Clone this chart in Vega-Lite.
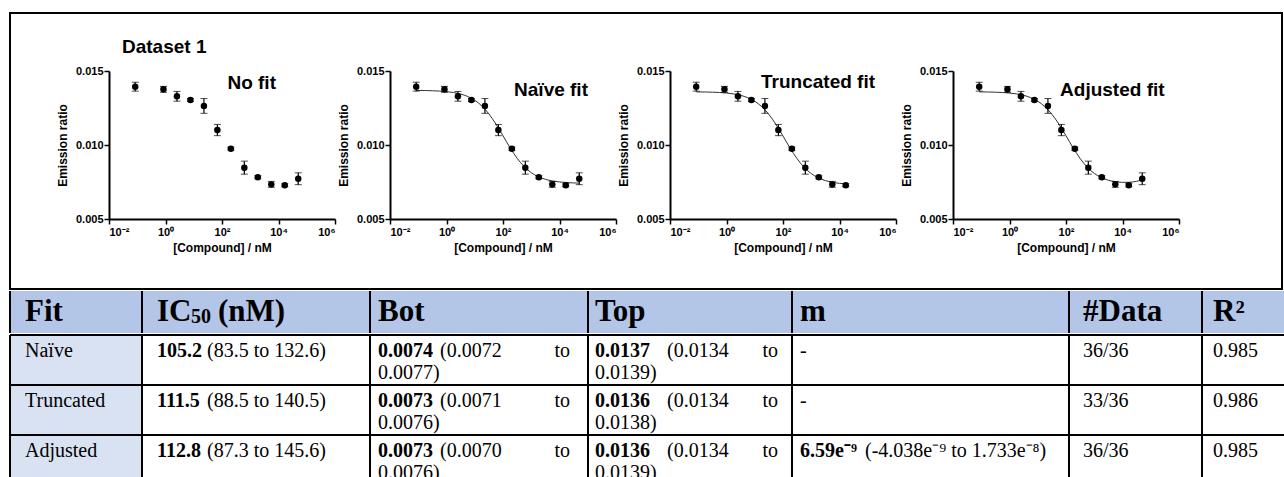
{
"$schema": "https://vega.github.io/schema/vega-lite/v6.json",
"background": "white",
"padding": {"left": 9, "top": 12, "right": 0, "bottom": 0},
"spacing": 0,
"bounds": "full",
"datasets": {
"obs": [
{"conc": 0.0847, "y": 0.01394, "err": 0.0003},
{"conc": 0.847, "y": 0.01376, "err": 0.0002},
{"conc": 2.54, "y": 0.01329, "err": 0.00033},
{"conc": 7.62, "y": 0.01304, "err": 0.0001},
{"conc": 22.9, "y": 0.01264, "err": 0.0005},
{"conc": 68.6, "y": 0.01101, "err": 0.00038},
{"conc": 206, "y": 0.00975, "err": 0.0001},
{"conc": 617, "y": 0.00847, "err": 0.00044},
{"conc": 1852, "y": 0.00782, "err": 0.0001},
{"conc": 5556, "y": 0.00734, "err": 0.0002},
{"conc": 16667, "y": 0.00728, "err": 0.0001},
{"conc": 50000, "y": 0.00772, "err": 0.0004}
],
"curves": [
{"fit": "naive", "conc": 0.085, "y": 0.013690},
{"fit": "naive", "conc": 0.1778, "y": 0.013680},
{"fit": "naive", "conc": 0.3162, "y": 0.013666},
{"fit": "naive", "conc": 0.5623, "y": 0.013644},
{"fit": "naive", "conc": 1, "y": 0.013606},
{"fit": "naive", "conc": 1.778, "y": 0.013544},
{"fit": "naive", "conc": 3.162, "y": 0.013442},
{"fit": "naive", "conc": 5.623, "y": 0.013279},
{"fit": "naive", "conc": 10, "y": 0.013024},
{"fit": "naive", "conc": 17.78, "y": 0.012642},
{"fit": "naive", "conc": 31.62, "y": 0.012105},
{"fit": "naive", "conc": 56.23, "y": 0.011415},
{"fit": "naive", "conc": 100, "y": 0.010622},
{"fit": "naive", "conc": 177.8, "y": 0.009819},
{"fit": "naive", "conc": 316.2, "y": 0.009106},
{"fit": "naive", "conc": 562.3, "y": 0.008541},
{"fit": "naive", "conc": 1000, "y": 0.008133},
{"fit": "naive", "conc": 1778, "y": 0.007858},
{"fit": "naive", "conc": 3162, "y": 0.007681},
{"fit": "naive", "conc": 5623, "y": 0.007571},
{"fit": "naive", "conc": 10000, "y": 0.007503},
{"fit": "naive", "conc": 17783, "y": 0.007462},
{"fit": "naive", "conc": 31623, "y": 0.007437},
{"fit": "naive", "conc": 50119, "y": 0.007424},
{"fit": "trunc", "conc": 0.085, "y": 0.013590},
{"fit": "trunc", "conc": 0.1778, "y": 0.013581},
{"fit": "trunc", "conc": 0.3162, "y": 0.013568},
{"fit": "trunc", "conc": 0.5623, "y": 0.013547},
{"fit": "trunc", "conc": 1, "y": 0.013511},
{"fit": "trunc", "conc": 1.778, "y": 0.013452},
{"fit": "trunc", "conc": 3.162, "y": 0.013355},
{"fit": "trunc", "conc": 5.623, "y": 0.013199},
{"fit": "trunc", "conc": 10, "y": 0.012955},
{"fit": "trunc", "conc": 17.78, "y": 0.012587},
{"fit": "trunc", "conc": 31.62, "y": 0.012067},
{"fit": "trunc", "conc": 56.23, "y": 0.011391},
{"fit": "trunc", "conc": 100, "y": 0.010604},
{"fit": "trunc", "conc": 177.8, "y": 0.009798},
{"fit": "trunc", "conc": 316.2, "y": 0.009072},
{"fit": "trunc", "conc": 562.3, "y": 0.008491},
{"fit": "trunc", "conc": 1000, "y": 0.008068},
{"fit": "trunc", "conc": 1778, "y": 0.007781},
{"fit": "trunc", "conc": 3162, "y": 0.007596},
{"fit": "trunc", "conc": 5623, "y": 0.007480},
{"fit": "trunc", "conc": 10000, "y": 0.007408},
{"fit": "trunc", "conc": 16596, "y": 0.007369},
{"fit": "adj", "conc": 0.085, "y": 0.013590},
{"fit": "adj", "conc": 0.1778, "y": 0.013581},
{"fit": "adj", "conc": 0.3162, "y": 0.013568},
{"fit": "adj", "conc": 0.5623, "y": 0.013547},
{"fit": "adj", "conc": 1, "y": 0.013512},
{"fit": "adj", "conc": 1.778, "y": 0.013453},
{"fit": "adj", "conc": 3.162, "y": 0.013357},
{"fit": "adj", "conc": 5.623, "y": 0.013203},
{"fit": "adj", "conc": 10, "y": 0.012960},
{"fit": "adj", "conc": 17.78, "y": 0.012596},
{"fit": "adj", "conc": 31.62, "y": 0.012079},
{"fit": "adj", "conc": 56.23, "y": 0.011406},
{"fit": "adj", "conc": 100, "y": 0.010621},
{"fit": "adj", "conc": 177.8, "y": 0.009815},
{"fit": "adj", "conc": 316.2, "y": 0.009087},
{"fit": "adj", "conc": 562.3, "y": 0.008505},
{"fit": "adj", "conc": 1000, "y": 0.008082},
{"fit": "adj", "conc": 1778, "y": 0.007798},
{"fit": "adj", "conc": 3162, "y": 0.007620},
{"fit": "adj", "conc": 5623, "y": 0.007518},
{"fit": "adj", "conc": 10000, "y": 0.007475},
{"fit": "adj", "conc": 17783, "y": 0.007483},
{"fit": "adj", "conc": 31623, "y": 0.007547},
{"fit": "adj", "conc": 50119, "y": 0.007656}
],
"hdr": [{"fit": "Fit", "ic": "IC", "ic50": "50", "icnm": "(nM)", "bot": "Bot", "top": "Top", "m": "m", "n": "#Data", "r2": "R²"}],
"tbl": [
{"row": 0, "fit": "Naïve", "ic": "105.2", "icci": "(83.5 to 132.6)", "bot": "0.0074", "botlo": "(0.0072", "bothi": "0.0077)", "top": "0.0137", "toplo": "(0.0134", "tophi": "0.0139)", "to": "to", "mdash": "-", "mb": "", "mr": "", "n": "36/36", "r2": "0.985"},
{"row": 1, "fit": "Truncated", "ic": "111.5", "icci": "(88.5 to 140.5)", "bot": "0.0073", "botlo": "(0.0071", "bothi": "0.0076)", "top": "0.0136", "toplo": "(0.0134", "tophi": "0.0138)", "to": "to", "mdash": "-", "mb": "", "mr": "", "n": "33/36", "r2": "0.986"},
{"row": 2, "fit": "Adjusted", "ic": "112.8", "icci": "(87.3 to 145.6)", "bot": "0.0073", "botlo": "(0.0070", "bothi": "0.0076)", "top": "0.0136", "toplo": "(0.0134", "tophi": "0.0139)", "to": "to", "mdash": "", "mb": "6.59e⁻⁹", "mr": "(-4.038e⁻⁹ to 1.733e⁻⁸)", "n": "36/36", "r2": "0.985"}
]
},
"vconcat": [
{
"width": 1272, "height": 276,
"view": {"stroke": "black", "strokeWidth": 2},
"resolve": {"scale": {"x": "independent", "y": "independent"}},
"layer": [
{
"layer": [
{"data": {"name": "obs"}, "mark": {"type": "errorbar", "ticks": {"size": 7, "color": "black"}, "rule": {"color": "black", "strokeWidth": 1.2}}, "encoding": {
"x": {"field": "conc", "type": "quantitative", "title": "[Compound] / nM", "scale": {"type": "log", "domain": [0.01, 1000000], "range": [99, 325], "nice": false}, "axis": {"orient": "bottom", "offset": -70, "values": [0.01, 1, 100, 10000, 1000000], "labelExpr": "datum.value == 0.01 ? '10⁻²' : datum.value == 1 ? '10⁰' : datum.value == 100 ? '10²' : datum.value == 10000 ? '10⁴' : '10⁶'", "title": "[Compound] / nM"}},
"y": {"field": "y", "type": "quantitative", "title": "Emission ratio", "scale": {"domain": [0.005, 0.015], "range": [206, 58], "nice": false, "zero": false}, "axis": {"orient": "left", "offset": -99, "values": [0.005, 0.01, 0.015], "format": ".3f", "title": "Emission ratio"}},
"yError": {"field": "err"}}},
{"data": {"name": "obs"}, "mark": {"type": "circle", "size": 42, "color": "black", "opacity": 1}, "encoding": {
"x": {"field": "conc", "type": "quantitative", "title": "[Compound] / nM", "scale": {"type": "log", "domain": [0.01, 1000000], "range": [99, 325], "nice": false}},
"y": {"field": "y", "type": "quantitative", "title": "Emission ratio", "scale": {"domain": [0.005, 0.015], "range": [206, 58], "nice": false, "zero": false}}}},
{"data": {"values": [{"label": "No fit"}]}, "mark": {"type": "text", "font": "Liberation Sans", "fontWeight": "bold", "fontSize": 19, "align": "center", "baseline": "middle", "color": "black"}, "encoding": {"x": {"datum": 1125, "type": "quantitative", "title": "[Compound] / nM"}, "y": {"datum": 0.014189, "type": "quantitative", "title": "Emission ratio"}, "text": {"field": "label"}}},
{"data": {"values": [{"label": "Dataset 1"}]}, "mark": {"type": "text", "font": "Liberation Sans", "fontWeight": "bold", "fontSize": 19, "align": "left", "baseline": "middle", "color": "black"}, "encoding": {"x": {"datum": 0.0288, "type": "quantitative", "title": "[Compound] / nM"}, "y": {"datum": 0.016622, "type": "quantitative", "title": "Emission ratio"}, "text": {"field": "label"}}}
]
},
{
"layer": [
{"data": {"name": "curves"}, "transform": [{"filter": "datum.fit == 'naive'"}], "mark": {"type": "line", "color": "#333333", "strokeWidth": 1, "interpolate": "monotone"}, "encoding": {
"x": {"field": "conc", "type": "quantitative", "title": "[Compound] / nM", "scale": {"type": "log", "domain": [0.01, 1000000], "range": [380, 606], "nice": false}, "axis": {"orient": "bottom", "offset": -70, "values": [0.01, 1, 100, 10000, 1000000], "labelExpr": "datum.value == 0.01 ? '10⁻²' : datum.value == 1 ? '10⁰' : datum.value == 100 ? '10²' : datum.value == 10000 ? '10⁴' : '10⁶'", "title": "[Compound] / nM"}},
"y": {"field": "y", "type": "quantitative", "title": "Emission ratio", "scale": {"domain": [0.005, 0.015], "range": [206, 58], "nice": false, "zero": false}, "axis": {"orient": "left", "offset": -380, "values": [0.005, 0.01, 0.015], "format": ".3f", "title": "Emission ratio"}}}},
{"data": {"name": "obs"}, "mark": {"type": "errorbar", "ticks": {"size": 7, "color": "black"}, "rule": {"color": "black", "strokeWidth": 1.2}}, "encoding": {
"x": {"field": "conc", "type": "quantitative", "title": "[Compound] / nM", "scale": {"type": "log", "domain": [0.01, 1000000], "range": [380, 606], "nice": false}},
"y": {"field": "y", "type": "quantitative", "title": "Emission ratio", "scale": {"domain": [0.005, 0.015], "range": [206, 58], "nice": false, "zero": false}},
"yError": {"field": "err"}}},
{"data": {"name": "obs"}, "mark": {"type": "circle", "size": 42, "color": "black", "opacity": 1}, "encoding": {
"x": {"field": "conc", "type": "quantitative", "title": "[Compound] / nM", "scale": {"type": "log", "domain": [0.01, 1000000], "range": [380, 606], "nice": false}},
"y": {"field": "y", "type": "quantitative", "title": "Emission ratio", "scale": {"domain": [0.005, 0.015], "range": [206, 58], "nice": false, "zero": false}}}},
{"data": {"values": [{"label": "Naïve fit"}]}, "mark": {"type": "text", "font": "Liberation Sans", "fontWeight": "bold", "fontSize": 19, "align": "center", "baseline": "middle", "color": "black"}, "encoding": {"x": {"datum": 5010, "type": "quantitative", "title": "[Compound] / nM"}, "y": {"datum": 0.013716, "type": "quantitative", "title": "Emission ratio"}, "text": {"field": "label"}}}
]
},
{
"layer": [
{"data": {"name": "curves"}, "transform": [{"filter": "datum.fit == 'trunc'"}], "mark": {"type": "line", "color": "#333333", "strokeWidth": 1, "interpolate": "monotone"}, "encoding": {
"x": {"field": "conc", "type": "quantitative", "title": "[Compound] / nM", "scale": {"type": "log", "domain": [0.01, 1000000], "range": [660, 886], "nice": false}, "axis": {"orient": "bottom", "offset": -70, "values": [0.01, 1, 100, 10000, 1000000], "labelExpr": "datum.value == 0.01 ? '10⁻²' : datum.value == 1 ? '10⁰' : datum.value == 100 ? '10²' : datum.value == 10000 ? '10⁴' : '10⁶'", "title": "[Compound] / nM"}},
"y": {"field": "y", "type": "quantitative", "title": "Emission ratio", "scale": {"domain": [0.005, 0.015], "range": [206, 58], "nice": false, "zero": false}, "axis": {"orient": "left", "offset": -660, "values": [0.005, 0.01, 0.015], "format": ".3f", "title": "Emission ratio"}}}},
{"data": {"name": "obs"}, "transform": [{"filter": "datum.conc < 20000"}], "mark": {"type": "errorbar", "ticks": {"size": 7, "color": "black"}, "rule": {"color": "black", "strokeWidth": 1.2}}, "encoding": {
"x": {"field": "conc", "type": "quantitative", "title": "[Compound] / nM", "scale": {"type": "log", "domain": [0.01, 1000000], "range": [660, 886], "nice": false}},
"y": {"field": "y", "type": "quantitative", "title": "Emission ratio", "scale": {"domain": [0.005, 0.015], "range": [206, 58], "nice": false, "zero": false}},
"yError": {"field": "err"}}},
{"data": {"name": "obs"}, "transform": [{"filter": "datum.conc < 20000"}], "mark": {"type": "circle", "size": 42, "color": "black", "opacity": 1}, "encoding": {
"x": {"field": "conc", "type": "quantitative", "title": "[Compound] / nM", "scale": {"type": "log", "domain": [0.01, 1000000], "range": [660, 886], "nice": false}},
"y": {"field": "y", "type": "quantitative", "title": "Emission ratio", "scale": {"domain": [0.005, 0.015], "range": [206, 58], "nice": false, "zero": false}}}},
{"data": {"values": [{"label": "Truncated fit"}]}, "mark": {"type": "text", "font": "Liberation Sans", "fontWeight": "bold", "fontSize": 19, "align": "center", "baseline": "middle", "color": "black"}, "encoding": {"x": {"datum": 1738, "type": "quantitative", "title": "[Compound] / nM"}, "y": {"datum": 0.014257, "type": "quantitative", "title": "Emission ratio"}, "text": {"field": "label"}}}
]
},
{
"layer": [
{"data": {"name": "curves"}, "transform": [{"filter": "datum.fit == 'adj'"}], "mark": {"type": "line", "color": "#333333", "strokeWidth": 1, "interpolate": "monotone"}, "encoding": {
"x": {"field": "conc", "type": "quantitative", "title": "[Compound] / nM", "scale": {"type": "log", "domain": [0.01, 1000000], "range": [943, 1169], "nice": false}, "axis": {"orient": "bottom", "offset": -70, "values": [0.01, 1, 100, 10000, 1000000], "labelExpr": "datum.value == 0.01 ? '10⁻²' : datum.value == 1 ? '10⁰' : datum.value == 100 ? '10²' : datum.value == 10000 ? '10⁴' : '10⁶'", "title": "[Compound] / nM"}},
"y": {"field": "y", "type": "quantitative", "title": "Emission ratio", "scale": {"domain": [0.005, 0.015], "range": [206, 58], "nice": false, "zero": false}, "axis": {"orient": "left", "offset": -943, "values": [0.005, 0.01, 0.015], "format": ".3f", "title": "Emission ratio"}}}},
{"data": {"name": "obs"}, "mark": {"type": "errorbar", "ticks": {"size": 7, "color": "black"}, "rule": {"color": "black", "strokeWidth": 1.2}}, "encoding": {
"x": {"field": "conc", "type": "quantitative", "title": "[Compound] / nM", "scale": {"type": "log", "domain": [0.01, 1000000], "range": [943, 1169], "nice": false}},
"y": {"field": "y", "type": "quantitative", "title": "Emission ratio", "scale": {"domain": [0.005, 0.015], "range": [206, 58], "nice": false, "zero": false}},
"yError": {"field": "err"}}},
{"data": {"name": "obs"}, "mark": {"type": "circle", "size": 42, "color": "black", "opacity": 1}, "encoding": {
"x": {"field": "conc", "type": "quantitative", "title": "[Compound] / nM", "scale": {"type": "log", "domain": [0.01, 1000000], "range": [943, 1169], "nice": false}},
"y": {"field": "y", "type": "quantitative", "title": "Emission ratio", "scale": {"domain": [0.005, 0.015], "range": [206, 58], "nice": false, "zero": false}}}},
{"data": {"values": [{"label": "Adjusted fit"}]}, "mark": {"type": "text", "font": "Liberation Sans", "fontWeight": "bold", "fontSize": 19, "align": "center", "baseline": "middle", "color": "black"}, "encoding": {"x": {"datum": 4365, "type": "quantitative", "title": "[Compound] / nM"}, "y": {"datum": 0.013716, "type": "quantitative", "title": "Emission ratio"}, "text": {"field": "label"}}}
]
}
]
},
{
"spacing": 0, "bounds": "flush",
"hconcat": [
{"width": 132, "height": 42, "data": {"name": "hdr"}, "view": {"fill": "#b4c6e7", "stroke": null}, "layer": [
{"mark": {"type": "rule", "color": "black", "strokeWidth": 2}, "encoding": {"x": {"datum": 0, "type": "quantitative", "scale": {"domain": [0, 1], "nice": false, "zero": false}, "axis": null}}},
{"mark": {"type": "text", "align": "left", "baseline": "middle", "font": "Liberation Serif", "fontWeight": "bold", "fontSize": 31, "dx": 15, "color": "black"}, "encoding": {"x": {"datum": 0, "type": "quantitative", "scale": {"domain": [0, 1], "nice": false, "zero": false}, "axis": null}, "text": {"field": "fit"}}}
]},
{"width": 228, "height": 42, "data": {"name": "hdr"}, "view": {"fill": "#b4c6e7", "stroke": null}, "layer": [
{"mark": {"type": "rule", "color": "black", "strokeWidth": 2}, "encoding": {"x": {"datum": 0, "type": "quantitative", "scale": {"domain": [0, 1], "nice": false, "zero": false}, "axis": null}}},
{"mark": {"type": "text", "align": "left", "baseline": "middle", "font": "Liberation Serif", "fontWeight": "bold", "fontSize": 31, "dx": 15, "color": "black"}, "encoding": {"x": {"datum": 0, "type": "quantitative", "scale": {"domain": [0, 1], "nice": false, "zero": false}, "axis": null}, "text": {"field": "ic"}}},
{"mark": {"type": "text", "align": "left", "baseline": "middle", "font": "Liberation Serif", "fontWeight": "bold", "fontSize": 20, "dx": 49, "dy": 5, "color": "black"}, "encoding": {"x": {"datum": 0, "type": "quantitative", "scale": {"domain": [0, 1], "nice": false, "zero": false}, "axis": null}, "text": {"field": "ic50"}}},
{"mark": {"type": "text", "align": "left", "baseline": "middle", "font": "Liberation Serif", "fontWeight": "bold", "fontSize": 31, "dx": 76, "color": "black"}, "encoding": {"x": {"datum": 0, "type": "quantitative", "scale": {"domain": [0, 1], "nice": false, "zero": false}, "axis": null}, "text": {"field": "icnm"}}}
]},
{"width": 218, "height": 42, "data": {"name": "hdr"}, "view": {"fill": "#b4c6e7", "stroke": null}, "layer": [
{"mark": {"type": "rule", "color": "black", "strokeWidth": 2}, "encoding": {"x": {"datum": 0, "type": "quantitative", "scale": {"domain": [0, 1], "nice": false, "zero": false}, "axis": null}}},
{"mark": {"type": "text", "align": "left", "baseline": "middle", "font": "Liberation Serif", "fontWeight": "bold", "fontSize": 31, "dx": 8, "color": "black"}, "encoding": {"x": {"datum": 0, "type": "quantitative", "scale": {"domain": [0, 1], "nice": false, "zero": false}, "axis": null}, "text": {"field": "bot"}}}
]},
{"width": 204, "height": 42, "data": {"name": "hdr"}, "view": {"fill": "#b4c6e7", "stroke": null}, "layer": [
{"mark": {"type": "rule", "color": "black", "strokeWidth": 2}, "encoding": {"x": {"datum": 0, "type": "quantitative", "scale": {"domain": [0, 1], "nice": false, "zero": false}, "axis": null}}},
{"mark": {"type": "text", "align": "left", "baseline": "middle", "font": "Liberation Serif", "fontWeight": "bold", "fontSize": 31, "dx": 7, "color": "black"}, "encoding": {"x": {"datum": 0, "type": "quantitative", "scale": {"domain": [0, 1], "nice": false, "zero": false}, "axis": null}, "text": {"field": "top"}}}
]},
{"width": 277, "height": 42, "data": {"name": "hdr"}, "view": {"fill": "#b4c6e7", "stroke": null}, "layer": [
{"mark": {"type": "rule", "color": "black", "strokeWidth": 2}, "encoding": {"x": {"datum": 0, "type": "quantitative", "scale": {"domain": [0, 1], "nice": false, "zero": false}, "axis": null}}},
{"mark": {"type": "text", "align": "left", "baseline": "middle", "font": "Liberation Serif", "fontWeight": "bold", "fontSize": 31, "dx": 8, "color": "black"}, "encoding": {"x": {"datum": 0, "type": "quantitative", "scale": {"domain": [0, 1], "nice": false, "zero": false}, "axis": null}, "text": {"field": "m"}}}
]},
{"width": 133, "height": 42, "data": {"name": "hdr"}, "view": {"fill": "#b4c6e7", "stroke": null}, "layer": [
{"mark": {"type": "rule", "color": "black", "strokeWidth": 2}, "encoding": {"x": {"datum": 0, "type": "quantitative", "scale": {"domain": [0, 1], "nice": false, "zero": false}, "axis": null}}},
{"mark": {"type": "text", "align": "left", "baseline": "middle", "font": "Liberation Serif", "fontWeight": "bold", "fontSize": 31, "dx": 14, "color": "black"}, "encoding": {"x": {"datum": 0, "type": "quantitative", "scale": {"domain": [0, 1], "nice": false, "zero": false}, "axis": null}, "text": {"field": "n"}}}
]},
{"width": 82, "height": 42, "data": {"name": "hdr"}, "view": {"fill": "#b4c6e7", "stroke": null}, "layer": [
{"mark": {"type": "rule", "color": "black", "strokeWidth": 2}, "encoding": {"x": {"datum": 0, "type": "quantitative", "scale": {"domain": [0, 1], "nice": false, "zero": false}, "axis": null}}},
{"mark": {"type": "text", "align": "left", "baseline": "middle", "font": "Liberation Serif", "fontWeight": "bold", "fontSize": 31, "dx": 11, "color": "black"}, "encoding": {"x": {"datum": 0, "type": "quantitative", "scale": {"domain": [0, 1], "nice": false, "zero": false}, "axis": null}, "text": {"field": "r2"}}}
]}
]
},
{
"spacing": 0, "bounds": "flush",
"hconcat": [
{"width": 132, "height": 143, "data": {"name": "tbl"}, "view": {"fill": "#d9e2f3", "stroke": null}, "layer": [
{"transform": [{"filter": "datum.row == 0"}], "mark": {"type": "rule", "color": "black", "strokeWidth": 2}, "encoding": {"x": {"datum": 0, "type": "quantitative", "scale": {"domain": [0, 1], "nice": false, "zero": false}, "axis": null}}},
{"mark": {"type": "rule", "color": "black", "strokeWidth": 2}, "encoding": {"y": {"field": "row", "type": "quantitative", "scale": {"domain": [0, 2.86], "reverse": true, "nice": false, "zero": false}, "axis": null}}},
{"mark": {"type": "text", "align": "left", "baseline": "middle", "font": "Liberation Serif", "fontSize": 20, "dx": 15, "dy": 16, "clip": true, "color": "black"}, "encoding": {"x": {"datum": 0, "type": "quantitative", "scale": {"domain": [0, 1], "nice": false, "zero": false}, "axis": null}, "y": {"field": "row", "type": "quantitative", "scale": {"domain": [0, 2.86], "reverse": true, "nice": false, "zero": false}, "axis": null}, "text": {"field": "fit"}}}
]},
{"width": 228, "height": 143, "data": {"name": "tbl"}, "view": {"stroke": null}, "layer": [
{"transform": [{"filter": "datum.row == 0"}], "mark": {"type": "rule", "color": "black", "strokeWidth": 2}, "encoding": {"x": {"datum": 0, "type": "quantitative", "scale": {"domain": [0, 1], "nice": false, "zero": false}, "axis": null}}},
{"mark": {"type": "rule", "color": "black", "strokeWidth": 2}, "encoding": {"y": {"field": "row", "type": "quantitative", "scale": {"domain": [0, 2.86], "reverse": true, "nice": false, "zero": false}, "axis": null}}},
{"mark": {"type": "text", "align": "left", "baseline": "middle", "font": "Liberation Serif", "fontWeight": "bold", "fontSize": 20, "dx": 15, "dy": 16, "clip": true, "color": "black"}, "encoding": {"x": {"datum": 0, "type": "quantitative", "scale": {"domain": [0, 1], "nice": false, "zero": false}, "axis": null}, "y": {"field": "row", "type": "quantitative", "scale": {"domain": [0, 2.86], "reverse": true, "nice": false, "zero": false}, "axis": null}, "text": {"field": "ic"}}},
{"mark": {"type": "text", "align": "left", "baseline": "middle", "font": "Liberation Serif", "fontSize": 20, "dx": 65, "dy": 16, "clip": true, "color": "black"}, "encoding": {"x": {"datum": 0, "type": "quantitative", "scale": {"domain": [0, 1], "nice": false, "zero": false}, "axis": null}, "y": {"field": "row", "type": "quantitative", "scale": {"domain": [0, 2.86], "reverse": true, "nice": false, "zero": false}, "axis": null}, "text": {"field": "icci"}}}
]},
{"width": 218, "height": 143, "data": {"name": "tbl"}, "view": {"stroke": null}, "layer": [
{"transform": [{"filter": "datum.row == 0"}], "mark": {"type": "rule", "color": "black", "strokeWidth": 2}, "encoding": {"x": {"datum": 0, "type": "quantitative", "scale": {"domain": [0, 1], "nice": false, "zero": false}, "axis": null}}},
{"mark": {"type": "rule", "color": "black", "strokeWidth": 2}, "encoding": {"y": {"field": "row", "type": "quantitative", "scale": {"domain": [0, 2.86], "reverse": true, "nice": false, "zero": false}, "axis": null}}},
{"mark": {"type": "text", "align": "left", "baseline": "middle", "font": "Liberation Serif", "fontWeight": "bold", "fontSize": 20, "dx": 8, "dy": 16, "clip": true, "color": "black"}, "encoding": {"x": {"datum": 0, "type": "quantitative", "scale": {"domain": [0, 1], "nice": false, "zero": false}, "axis": null}, "y": {"field": "row", "type": "quantitative", "scale": {"domain": [0, 2.86], "reverse": true, "nice": false, "zero": false}, "axis": null}, "text": {"field": "bot"}}},
{"mark": {"type": "text", "align": "left", "baseline": "middle", "font": "Liberation Serif", "fontSize": 20, "dx": 70, "dy": 16, "clip": true, "color": "black"}, "encoding": {"x": {"datum": 0, "type": "quantitative", "scale": {"domain": [0, 1], "nice": false, "zero": false}, "axis": null}, "y": {"field": "row", "type": "quantitative", "scale": {"domain": [0, 2.86], "reverse": true, "nice": false, "zero": false}, "axis": null}, "text": {"field": "botlo"}}},
{"mark": {"type": "text", "align": "right", "baseline": "middle", "font": "Liberation Serif", "fontSize": 20, "dx": -18, "dy": 16, "clip": true, "color": "black"}, "encoding": {"x": {"datum": 1, "type": "quantitative", "scale": {"domain": [0, 1], "nice": false, "zero": false}, "axis": null}, "y": {"field": "row", "type": "quantitative", "scale": {"domain": [0, 2.86], "reverse": true, "nice": false, "zero": false}, "axis": null}, "text": {"field": "to"}}},
{"mark": {"type": "text", "align": "left", "baseline": "middle", "font": "Liberation Serif", "fontSize": 20, "dx": 8, "dy": 38, "clip": true, "color": "black"}, "encoding": {"x": {"datum": 0, "type": "quantitative", "scale": {"domain": [0, 1], "nice": false, "zero": false}, "axis": null}, "y": {"field": "row", "type": "quantitative", "scale": {"domain": [0, 2.86], "reverse": true, "nice": false, "zero": false}, "axis": null}, "text": {"field": "bothi"}}}
]},
{"width": 204, "height": 143, "data": {"name": "tbl"}, "view": {"stroke": null}, "layer": [
{"transform": [{"filter": "datum.row == 0"}], "mark": {"type": "rule", "color": "black", "strokeWidth": 2}, "encoding": {"x": {"datum": 0, "type": "quantitative", "scale": {"domain": [0, 1], "nice": false, "zero": false}, "axis": null}}},
{"mark": {"type": "rule", "color": "black", "strokeWidth": 2}, "encoding": {"y": {"field": "row", "type": "quantitative", "scale": {"domain": [0, 2.86], "reverse": true, "nice": false, "zero": false}, "axis": null}}},
{"mark": {"type": "text", "align": "left", "baseline": "middle", "font": "Liberation Serif", "fontWeight": "bold", "fontSize": 20, "dx": 7, "dy": 16, "clip": true, "color": "black"}, "encoding": {"x": {"datum": 0, "type": "quantitative", "scale": {"domain": [0, 1], "nice": false, "zero": false}, "axis": null}, "y": {"field": "row", "type": "quantitative", "scale": {"domain": [0, 2.86], "reverse": true, "nice": false, "zero": false}, "axis": null}, "text": {"field": "top"}}},
{"mark": {"type": "text", "align": "left", "baseline": "middle", "font": "Liberation Serif", "fontSize": 20, "dx": 79, "dy": 16, "clip": true, "color": "black"}, "encoding": {"x": {"datum": 0, "type": "quantitative", "scale": {"domain": [0, 1], "nice": false, "zero": false}, "axis": null}, "y": {"field": "row", "type": "quantitative", "scale": {"domain": [0, 2.86], "reverse": true, "nice": false, "zero": false}, "axis": null}, "text": {"field": "toplo"}}},
{"mark": {"type": "text", "align": "right", "baseline": "middle", "font": "Liberation Serif", "fontSize": 20, "dx": -14, "dy": 16, "clip": true, "color": "black"}, "encoding": {"x": {"datum": 1, "type": "quantitative", "scale": {"domain": [0, 1], "nice": false, "zero": false}, "axis": null}, "y": {"field": "row", "type": "quantitative", "scale": {"domain": [0, 2.86], "reverse": true, "nice": false, "zero": false}, "axis": null}, "text": {"field": "to"}}},
{"mark": {"type": "text", "align": "left", "baseline": "middle", "font": "Liberation Serif", "fontSize": 20, "dx": 7, "dy": 38, "clip": true, "color": "black"}, "encoding": {"x": {"datum": 0, "type": "quantitative", "scale": {"domain": [0, 1], "nice": false, "zero": false}, "axis": null}, "y": {"field": "row", "type": "quantitative", "scale": {"domain": [0, 2.86], "reverse": true, "nice": false, "zero": false}, "axis": null}, "text": {"field": "tophi"}}}
]},
{"width": 277, "height": 143, "data": {"name": "tbl"}, "view": {"stroke": null}, "layer": [
{"transform": [{"filter": "datum.row == 0"}], "mark": {"type": "rule", "color": "black", "strokeWidth": 2}, "encoding": {"x": {"datum": 0, "type": "quantitative", "scale": {"domain": [0, 1], "nice": false, "zero": false}, "axis": null}}},
{"mark": {"type": "rule", "color": "black", "strokeWidth": 2}, "encoding": {"y": {"field": "row", "type": "quantitative", "scale": {"domain": [0, 2.86], "reverse": true, "nice": false, "zero": false}, "axis": null}}},
{"mark": {"type": "text", "align": "left", "baseline": "middle", "font": "Liberation Serif", "fontSize": 20, "dx": 8, "dy": 16, "clip": true, "color": "black"}, "encoding": {"x": {"datum": 0, "type": "quantitative", "scale": {"domain": [0, 1], "nice": false, "zero": false}, "axis": null}, "y": {"field": "row", "type": "quantitative", "scale": {"domain": [0, 2.86], "reverse": true, "nice": false, "zero": false}, "axis": null}, "text": {"field": "mdash"}}},
{"mark": {"type": "text", "align": "left", "baseline": "middle", "font": "Liberation Serif", "fontWeight": "bold", "fontSize": 20, "dx": 8, "dy": 16, "clip": true, "color": "black"}, "encoding": {"x": {"datum": 0, "type": "quantitative", "scale": {"domain": [0, 1], "nice": false, "zero": false}, "axis": null}, "y": {"field": "row", "type": "quantitative", "scale": {"domain": [0, 2.86], "reverse": true, "nice": false, "zero": false}, "axis": null}, "text": {"field": "mb"}}},
{"mark": {"type": "text", "align": "left", "baseline": "middle", "font": "Liberation Serif", "fontSize": 20, "dx": 73, "dy": 16, "clip": true, "color": "black"}, "encoding": {"x": {"datum": 0, "type": "quantitative", "scale": {"domain": [0, 1], "nice": false, "zero": false}, "axis": null}, "y": {"field": "row", "type": "quantitative", "scale": {"domain": [0, 2.86], "reverse": true, "nice": false, "zero": false}, "axis": null}, "text": {"field": "mr"}}}
]},
{"width": 133, "height": 143, "data": {"name": "tbl"}, "view": {"stroke": null}, "layer": [
{"transform": [{"filter": "datum.row == 0"}], "mark": {"type": "rule", "color": "black", "strokeWidth": 2}, "encoding": {"x": {"datum": 0, "type": "quantitative", "scale": {"domain": [0, 1], "nice": false, "zero": false}, "axis": null}}},
{"mark": {"type": "rule", "color": "black", "strokeWidth": 2}, "encoding": {"y": {"field": "row", "type": "quantitative", "scale": {"domain": [0, 2.86], "reverse": true, "nice": false, "zero": false}, "axis": null}}},
{"mark": {"type": "text", "align": "left", "baseline": "middle", "font": "Liberation Serif", "fontSize": 20, "dx": 14, "dy": 16, "clip": true, "color": "black"}, "encoding": {"x": {"datum": 0, "type": "quantitative", "scale": {"domain": [0, 1], "nice": false, "zero": false}, "axis": null}, "y": {"field": "row", "type": "quantitative", "scale": {"domain": [0, 2.86], "reverse": true, "nice": false, "zero": false}, "axis": null}, "text": {"field": "n"}}}
]},
{"width": 82, "height": 143, "data": {"name": "tbl"}, "view": {"stroke": null}, "layer": [
{"transform": [{"filter": "datum.row == 0"}], "mark": {"type": "rule", "color": "black", "strokeWidth": 2}, "encoding": {"x": {"datum": 0, "type": "quantitative", "scale": {"domain": [0, 1], "nice": false, "zero": false}, "axis": null}}},
{"mark": {"type": "rule", "color": "black", "strokeWidth": 2}, "encoding": {"y": {"field": "row", "type": "quantitative", "scale": {"domain": [0, 2.86], "reverse": true, "nice": false, "zero": false}, "axis": null}}},
{"mark": {"type": "text", "align": "left", "baseline": "middle", "font": "Liberation Serif", "fontSize": 20, "dx": 11, "dy": 16, "clip": true, "color": "black"}, "encoding": {"x": {"datum": 0, "type": "quantitative", "scale": {"domain": [0, 1], "nice": false, "zero": false}, "axis": null}, "y": {"field": "row", "type": "quantitative", "scale": {"domain": [0, 2.86], "reverse": true, "nice": false, "zero": false}, "axis": null}, "text": {"field": "r2"}}}
]}
]
}
],
"config": {
"view": {"stroke": null},
"axis": {"domainColor": "black", "domainWidth": 2, "tickColor": "black", "tickWidth": 1.5, "tickSize": 5, "labelColor": "black", "labelFont": "Liberation Sans", "labelFontWeight": "bold", "labelFontSize": 11, "labelPadding": 1, "titleColor": "black", "titleFont": "Liberation Sans", "titleFontWeight": "bold", "titleFontSize": 12, "titlePadding": 6, "grid": false},
"axisX": {"labelPadding": 2, "titlePadding": 5}
}
}
